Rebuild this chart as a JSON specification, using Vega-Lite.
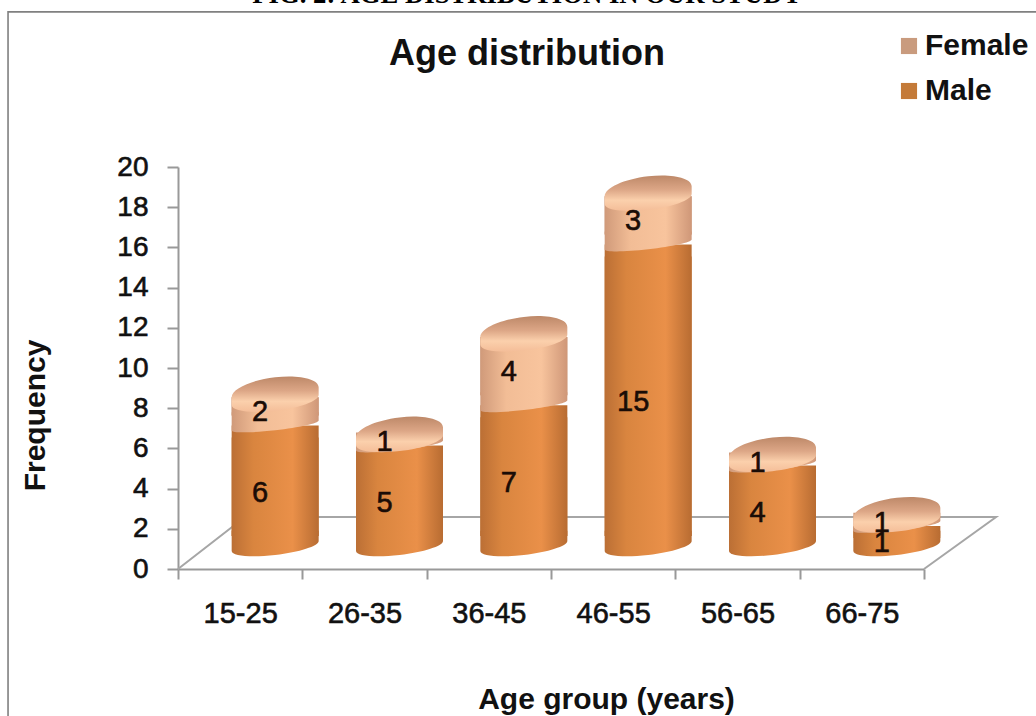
{
  "$schema": "https://vega.github.io/schema/vega-lite/v6.json",
  "width": 746,
  "height": 402,
  "autosize": {"type": "none"},
  "padding": {"left": 178, "top": 167, "right": 112, "bottom": 147},
  "background": "white",
  "config": {
    "view": {"stroke": null},
    "font": "Liberation Sans"
  },
  "title": {
    "text": "FIG. 2: AGE DISTRIBUTION IN OUR STUDY",
    "font": "Liberation Serif",
    "fontSize": 26.7,
    "fontWeight": "bold",
    "color": "#000000",
    "subtitle": "Age distribution",
    "subtitleFont": "Liberation Sans",
    "subtitleFontSize": 36,
    "subtitleFontWeight": "bold",
    "subtitleColor": "#111111",
    "subtitlePadding": 28,
    "anchor": "middle",
    "frame": "group",
    "dx": -24,
    "offset": -63
  },
  "datasets": {
    "ages": [
      {"age": "15-25", "sex": "Male", "count": 6},
      {"age": "15-25", "sex": "Female", "count": 2},
      {"age": "26-35", "sex": "Male", "count": 5},
      {"age": "26-35", "sex": "Female", "count": 1},
      {"age": "36-45", "sex": "Male", "count": 7},
      {"age": "36-45", "sex": "Female", "count": 4},
      {"age": "46-55", "sex": "Male", "count": 15},
      {"age": "46-55", "sex": "Female", "count": 3},
      {"age": "56-65", "sex": "Male", "count": 4},
      {"age": "56-65", "sex": "Female", "count": 1},
      {"age": "66-75", "sex": "Male", "count": 1},
      {"age": "66-75", "sex": "Female", "count": 1}
    ],
    "floor": [
      {"step": 1, "u": 0, "v": 0},
      {"step": 2, "u": 0.539, "v": 2.59},
      {"step": 3, "u": 6.58, "v": 2.59},
      {"step": 4, "u": 6, "v": 0}
    ],
    "frame": [
      {"u": -1.367, "v": -8},
      {"u": -1.367, "v": 27.72},
      {"u": 6.99, "v": 27.72}
    ]
  },
  "layer": [
    {
      "data": {"name": "frame"},
      "mark": {"type": "line", "color": "#808080", "strokeWidth": 1.6, "clip": false},
      "encoding": {
        "x": {"field": "u", "type": "quantitative", "scale": {"domain": [0, 6], "nice": false, "zero": false}, "axis": null},
        "y": {"field": "v", "type": "quantitative", "scale": {"domain": [0, 20], "nice": false}, "axis": {"values": [0,2,4,6,8,10,12,14,16,18,20], "title": "Frequency", "titleFont": "Liberation Sans", "titleFontSize": 30, "titleFontWeight": "bold", "titleColor": "#111111", "titleX": -128, "titleY": 248, "titleAngle": -90, "grid": false, "domainColor": "#999999", "domainWidth": 2, "tickColor": "#999999", "tickWidth": 2, "tickSize": 11, "labelFontSize": 28, "labelColor": "#111111", "labelPadding": 19,
          "encoding": {"labels": {"stroke": {"value": "#111111"}, "strokeWidth": {"value": 0.6}}}}},
        "order": {"field": "u", "type": "ordinal", "sort": null}
      }
    },
    {
      "data": {"name": "floor"},
      "mark": {"type": "line", "color": "#a6a6a6", "strokeWidth": 2, "clip": false},
      "encoding": {
        "x": {"field": "u", "type": "quantitative", "scale": {"domain": [0, 6], "nice": false, "zero": false}, "axis": null},
        "y": {"field": "v", "type": "quantitative"},
        "order": {"field": "step", "type": "quantitative"}
      }
    },
    {
      "data": {"name": "ages"},
      "transform": [
        {"stack": "count", "groupby": ["age"], "sort": [{"field": "sex", "order": "descending"}], "as": ["low", "high"]}
      ],
      "encoding": {
        "x": {"field": "age", "type": "nominal", "scale": {"domain": ["15-25","26-35","36-45","46-55","56-65","66-75"], "paddingInner": 0, "paddingOuter": 0}, "axis": {"title": "Age group (years)", "titleFont": "Liberation Sans", "titleFontSize": 30, "titleFontWeight": "bold", "titleColor": "#111111", "titleX": 428, "titleY": 139, "titleAnchor": "middle", "titleBaseline": "alphabetic", "labelAngle": 0, "labelFontSize": 29, "labelColor": "#111111", "labelPadding": 20, "tickBand": "extent", "tickColor": "#999999", "tickWidth": 2, "tickSize": 10, "domainColor": "#999999", "domainWidth": 2,
          "encoding": {"labels": {"stroke": {"value": "#111111"}, "strokeWidth": {"value": 0.6}}}}}
      },
      "layer": [
        {
          "mark": {"type": "bar", "size": 87, "xOffset": 35, "yOffset": -11, "y2Offset": -33},
          "encoding": {
            "y": {"field": "high", "type": "quantitative"},
            "y2": {"field": "low"},
            "color": {
              "field": "sex", "type": "nominal",
              "scale": {"domain": ["Female", "Male"], "range": ["#c99b7e", "#c47a38"]},
              "legend": {"title": null, "orient": "none", "legendX": 716, "legendY": -136, "symbolType": "square", "symbolSize": 260, "symbolStrokeWidth": 0, "labelFontSize": 30, "labelFontWeight": "bold", "labelColor": "#111111", "labelOffset": 1, "rowPadding": 15, "labelLimit": 200}
            }
          }
        },
        {
          "transform": [{"filter": "datum.sex === 'Male'"}],
          "mark": {"type": "point", "filled": true, "opacity": 1, "size": 7569, "xOffset": 35, "yOffset": -23, "strokeWidth": 0,
            "shape": "M1,-.35 L1,-.115 C1,-.0007 .5523,.1435 0,.207 C-.5523,.2705 -1,.2293 -1,.115 L-1,-.35 Z",
            "fill": {"gradient": "linear", "x1": 0, "y1": 0, "x2": 1, "y2": 0, "stops": [{"offset": 0, "color": "#bb6f35"}, {"offset": 0.25, "color": "#d9853f"}, {"offset": 0.7, "color": "#ea9049"}, {"offset": 1, "color": "#b86c32"}]}},
          "encoding": {"y": {"field": "low", "type": "quantitative"}}
        },
        {
          "transform": [{"filter": "datum.sex === 'Male'"}],
          "mark": {"type": "bar", "size": 87, "xOffset": 35, "yOffset": -23, "y2Offset": -33,
            "fill": {"gradient": "linear", "x1": 0, "y1": 0, "x2": 1, "y2": 0, "stops": [{"offset": 0, "color": "#bb6f35"}, {"offset": 0.25, "color": "#d9853f"}, {"offset": 0.7, "color": "#ea9049"}, {"offset": 1, "color": "#b86c32"}]}},
          "encoding": {
            "y": {"field": "high", "type": "quantitative"},
            "y2": {"field": "low"}
          }
        },
        {
          "transform": [{"filter": "datum.sex === 'Female'"}],
          "mark": {"type": "bar", "size": 87, "xOffset": 35, "yOffset": -11, "y2Offset": -33,
            "fill": {"gradient": "linear", "x1": 0, "y1": 0, "x2": 1, "y2": 0, "stops": [{"offset": 0, "color": "#d09a7a"}, {"offset": 0.3, "color": "#f2bd96"}, {"offset": 0.7, "color": "#f8c49d"}, {"offset": 1, "color": "#cf9778"}]}},
          "encoding": {
            "y": {"field": "high", "type": "quantitative"},
            "y2": {"field": "low"}
          }
        },
        {
          "transform": [{"filter": "datum.sex === 'Female'"}],
          "mark": {"type": "point", "filled": true, "opacity": 1, "size": 7569, "xOffset": 35, "yOffset": -23, "strokeWidth": 0,
            "shape": "M1,-.3 L1,-.115 C1,-.0542 .5523,.0465 0,.11 C-.5523,.1735 -1,.1758 -1,.115 L-1,-.3 Z",
            "fill": {"gradient": "linear", "x1": 0, "y1": 0, "x2": 1, "y2": 0, "stops": [{"offset": 0, "color": "#d09a7a"}, {"offset": 0.3, "color": "#f2bd96"}, {"offset": 0.7, "color": "#f8c49d"}, {"offset": 1, "color": "#cf9778"}]}},
          "encoding": {"y": {"field": "low", "type": "quantitative"}}
        },
        {
          "transform": [{"filter": "datum.sex === 'Female'"}],
          "mark": {"type": "point", "filled": true, "opacity": 1, "size": 7569, "xOffset": 35, "yOffset": -16, "strokeWidth": 0,
            "shape": "M1,-.115 L1,.065 C1,.203 .5523,.3665 0,.43 C-.5523,.4935 -1,.433 -1,.295 L-1,.115 C-1,-.0755 -.5523,-.2815 0,-.345 C.5523,-.4085 1,-.3055 1,-.115 Z",
            "fill": {"gradient": "linear", "x1": 0, "y1": 0, "x2": 0, "y2": 1, "stops": [{"offset": 0, "color": "#bd8868"}, {"offset": 0.4, "color": "#dca686"}, {"offset": 0.7, "color": "#fbd0ac"}, {"offset": 1, "color": "#f4bd98"}]}},
          "encoding": {"y": {"field": "high", "type": "quantitative"}}
        },
        {
          "transform": [{"fold": ["low", "high"], "as": ["edge", "level"]}],
          "mark": {"type": "text", "fontSize": 29, "color": "#1a0c06", "stroke": "#1a0c06", "strokeWidth": 0.6, "xOffset": 20, "yOffset": -16, "baseline": "middle"},
          "encoding": {
            "y": {"aggregate": "mean", "field": "level", "type": "quantitative"},
            "detail": {"field": "sex"},
            "text": {"field": "count", "type": "quantitative"}
          }
        }
      ]
    }
  ],
  "resolve": {"scale": {"x": "independent"}, "axis": {"x": "independent"}}
}
